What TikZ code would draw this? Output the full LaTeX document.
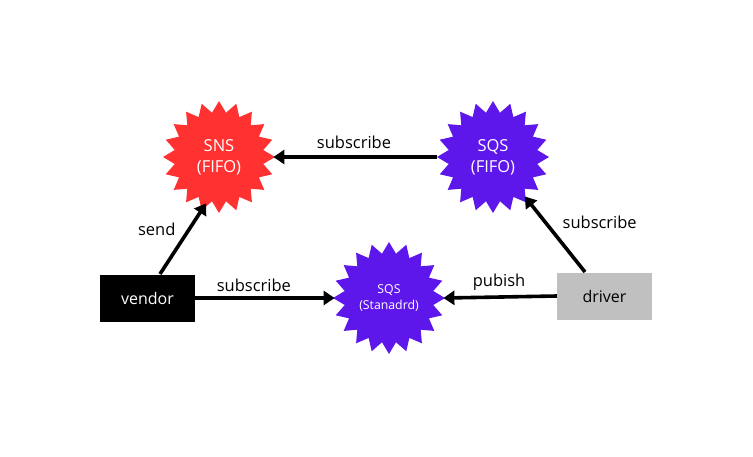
\documentclass[tikz,border=0pt]{standalone}
\usepackage{fontspec}
\setmainfont{Open Sans}
\usetikzlibrary{shapes.geometric,arrows.meta}
\definecolor{snsred}{HTML}{FF3131}
\definecolor{sqspurple}{HTML}{5E17EB}
\definecolor{drvgray}{HTML}{C0C0C0}
\tikzset{
  burst/.style={star, star points=20, star point ratio=1.25, minimum size=112pt, inner sep=0pt, draw=none, text=white, align=center, font=\fontsize{16.5}{21}\selectfont},
  boxnode/.style={minimum width=95pt, minimum height=47pt, inner sep=0pt, font=\fontsize{16}{19}\selectfont},
  conn/.style={line width=3.6pt, -{Triangle[length=11pt,width=14pt]}, shorten >=-2pt},
  lbl/.style={font=\fontsize{16.5}{20}\selectfont, text=black}
}
\begin{document}
\begin{tikzpicture}[x=1pt,y=-1pt]
\useasboundingbox (0,0) rectangle (753,456);
\node[burst, fill=snsred] (sns) at (219,157) {SNS\\(FIFO)};
\node[burst, fill=sqspurple] (sqsf) at (493,157) {SQS\\(FIFO)};
\node[burst, fill=sqspurple, font=\fontsize{12.3}{16}\selectfont] (sqss) at (389,298) {SQS\\(Stanadrd)};
\node[boxnode, fill=black, text=white] (vendor) at (147.5,298) {vendor};
\node[boxnode, fill=drvgray, text=black] (driver) at (604.5,296) {driver};
\coordinate (v1) at (160,274);
\coordinate (s1) at (205,205);
\draw[conn] (v1) -- (s1) node[lbl, midway, anchor=south east, xshift=-2pt, yshift=-1pt] {send};
\draw[conn] (vendor.east) -- (sqss.west) node[lbl, midway, above=1pt, xshift=-10pt] {subscribe};
\draw[conn] (sqsf.west) -- (sns.east) node[lbl, midway, above=3pt, xshift=-2pt] {subscribe};
\coordinate (d1) at (585,272);
\coordinate (q1) at (526,198);
\draw[conn] (d1) -- (q1) node[lbl, midway, anchor=south west, xshift=2pt, yshift=1pt] {subscribe};
\draw[conn] (driver.west) -- (sqss.east) node[lbl, midway, above=1pt, xshift=-2pt] {pubish};
\end{tikzpicture}
\end{document}
